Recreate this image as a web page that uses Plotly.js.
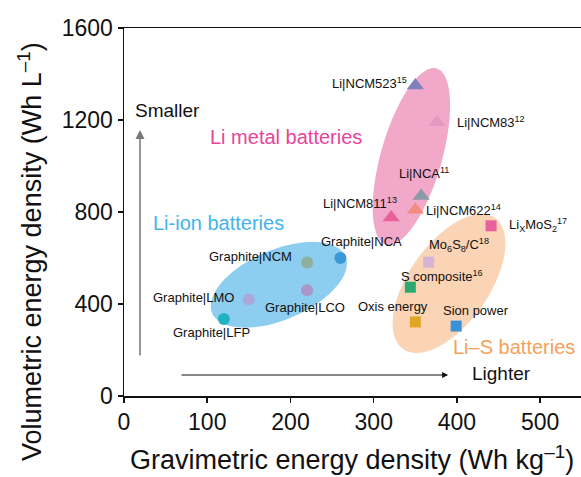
<!DOCTYPE html>
<html><head><meta charset="utf-8">
<script src="https://cdn.plot.ly/plotly-3.0.1.min.js"></script>
<style>html,body{margin:0;padding:0;background:#fff}</style>
</head><body><div id="chart" style="width:581px;height:477px"></div>
<script>
// ---- data ----
const liIonLabels = ["Graphite|LFP","Graphite|LMO","Graphite|LCO","Graphite|NCM","Graphite|NCA"];
const liIonX = [120,150,220,220,260];
const liIonY = [335,420,460,580,600];

const liMetalLabels = ["Li|NCM523<sup>15</sup>","Li|NCM83<sup>12</sup>","Li|NCA<sup>11</sup>","Li|NCM622<sup>14</sup>","Li|NCM811<sup>13</sup>"];
const liMetalX = [350,376,357,350,321];
const liMetalY = [1350,1190,870,810,776];

const liSLabels = ["Li<sub>X</sub>MoS<sub>2</sub><sup>17</sup>","Mo<sub>6</sub>S<sub>8</sub>/C<sup>18</sup>","S composite<sup>16</sup>","Oxis energy","Sion power"];
const liSX = [441,366,344,350,399];
const liSY = [740,582,473,322,304];

const xTicks = [0,100,200,300,400,500];
const yTicks = [0,400,800,1200,1600];

// ---- styles ----
const liIonColors = ["#1fb4bf","#aba8da","#a897c8","#8fb09c","#3a9ad8"];
const liMetalColors = ["#8080c0","#e39ac2","#8c99a6","#f28c80","#e9619b"];
const liSColors = ["#e7629c","#d6b4d8","#2aaa70","#e2a526","#3a92d6"];

// label placement: [xanchor, xshift, yshift]
const liIonLabelPos = [["center",-12,-14],["right",-13,2],["center",-2,-17],["right",-13,6],["center",21,17]];
const liMetalLabelPos = [["right",-6,3],["left",18,0],["center",3,23],["left",9,0],["right",8,15]];
const liSLabelPos = [["left",16,1],["center",30,17],["center",32,11],["center",-22,15],["center",20,16]];

const W=581,H=477,ML=124,MR=0,MT=28,MB=81;
const XR=[0,549], YR=[0,1600];
const kx=(W-ML-MR)/(XR[1]-XR[0]), ky=(H-MT-MB)/(YR[1]-YR[0]);
const FONT="Liberation Sans, Arial, sans-serif";

function ellipsePath(cxPx, cyPx, a, b, deg){
  // pixel-space ellipse -> data-space path
  const th=deg*Math.PI/180; let d="";
  for(let i=0;i<=96;i++){
    const t=2*Math.PI*i/96;
    const px=cxPx + a*Math.cos(t)*Math.cos(th) - b*Math.sin(t)*Math.sin(th);
    const py=cyPx - (a*Math.cos(t)*Math.sin(th) + b*Math.sin(t)*Math.cos(th));
    const x=(px-ML)/kx + XR[0], y=(H-MB-py)/ky + YR[0];
    d+=(i?"L":"M")+x.toFixed(2)+","+y.toFixed(2);
  }
  return d+"Z";
}

const shapes=[
  {type:"path",path:ellipsePath(278.8,284.8,72.4,35,23),fillcolor:"#8ccdf0",line:{width:0},layer:"below"},
  {type:"path",path:ellipsePath(411.4,156.5,91.6,30.5,74),fillcolor:"#f1a8c9",line:{width:0},layer:"below"},
  {type:"path",path:ellipsePath(449,283.5,80,40,55),fillcolor:"#fad4b4",line:{width:0},layer:"below"}
];

function tr(x,y,colors,symbol,size){
  return {type:"scatter",mode:"markers",x:x,y:y,hoverinfo:"skip",
    marker:{symbol:symbol,size:size,color:colors,line:{width:0}}};
}
const data=[
  tr(liIonX,liIonY,liIonColors,"circle",12),
  tr(liMetalX,liMetalY,liMetalColors,"triangle-up",15),
  tr(liSX,liSY,liSColors,"square",11)
];

const annotations=[];
function addLabels(labels,xs,ys,pos){
  labels.forEach((t,i)=>annotations.push({x:xs[i],y:ys[i],text:t,showarrow:false,
    xanchor:pos[i][0],yanchor:"middle",xshift:pos[i][1],yshift:pos[i][2],
    font:{family:FONT,size:13,color:"#111"}}));
}
addLabels(liIonLabels,liIonX,liIonY,liIonLabelPos);
addLabels(liMetalLabels,liMetalX,liMetalY,liMetalLabelPos);
addLabels(liSLabels,liSX,liSY,liSLabelPos);

// group labels
annotations.push({x:194.7,y:1127,text:"Li metal batteries",showarrow:false,font:{family:FONT,size:20,color:"#e8449b"}});
annotations.push({x:113.8,y:752,text:"Li-ion batteries",showarrow:false,font:{family:FONT,size:20,color:"#43b4ea"}});
annotations.push({x:468.8,y:214,text:"Li–S batteries",showarrow:false,font:{family:FONT,size:20,color:"#f4a15a"}});
annotations.push({x:10.8,y:1243,text:"Smaller",xanchor:"left",showarrow:false,font:{family:FONT,size:19,color:"#111"}});
annotations.push({x:416,y:96,text:"Lighter",xanchor:"left",showarrow:false,font:{family:FONT,size:19,color:"#111"}});
// arrows
annotations.push({x:19.2,y:1157,ax:19.2,ay:170,axref:"x",ayref:"y",text:"",showarrow:true,arrowhead:2,arrowsize:1.2,arrowwidth:1.5,arrowcolor:"#777"});
annotations.push({x:389.4,y:91.3,ax:67.3,ay:91.3,axref:"x",ayref:"y",text:"",showarrow:true,arrowhead:2,arrowsize:1.2,arrowwidth:1,arrowcolor:"#111"});
// axis titles
annotations.push({xref:"paper",yref:"paper",x:(30-ML)/(W-ML-MR),y:(H-MB-252)/(H-MT-MB),textangle:-90,
  text:"Volumetric energy density (Wh L<sup>–1</sup>)",showarrow:false,xanchor:"center",yanchor:"middle",
  font:{family:FONT,size:27,color:"#111"}});
annotations.push({xref:"paper",yref:"paper",x:(351.5-ML)/(W-ML-MR),y:(H-MB-458)/(H-MT-MB),
  text:"Gravimetric energy density (Wh kg<sup>–1</sup>)",showarrow:false,xanchor:"center",yanchor:"middle",
  font:{family:FONT,size:27,color:"#111"}});

const axisCommon={showline:true,linecolor:"#111",linewidth:1.5,ticks:"outside",ticklen:5,tickwidth:1.5,tickcolor:"#111",
  showgrid:false,zeroline:false,tickfont:{family:FONT,size:23,color:"#111"},fixedrange:true};
const layout={
  width:W,height:H,margin:{l:ML,r:MR,t:MT,b:MB},paper_bgcolor:"#fff",plot_bgcolor:"#fff",showlegend:false,
  xaxis:Object.assign({},axisCommon,{range:XR,tickvals:xTicks,mirror:true}),
  yaxis:Object.assign({},axisCommon,{range:YR,tickvals:yTicks}),
  shapes:shapes,annotations:annotations
};
Plotly.newPlot("chart",data,layout,{displayModeBar:false,staticPlot:true});
</script></body></html>
